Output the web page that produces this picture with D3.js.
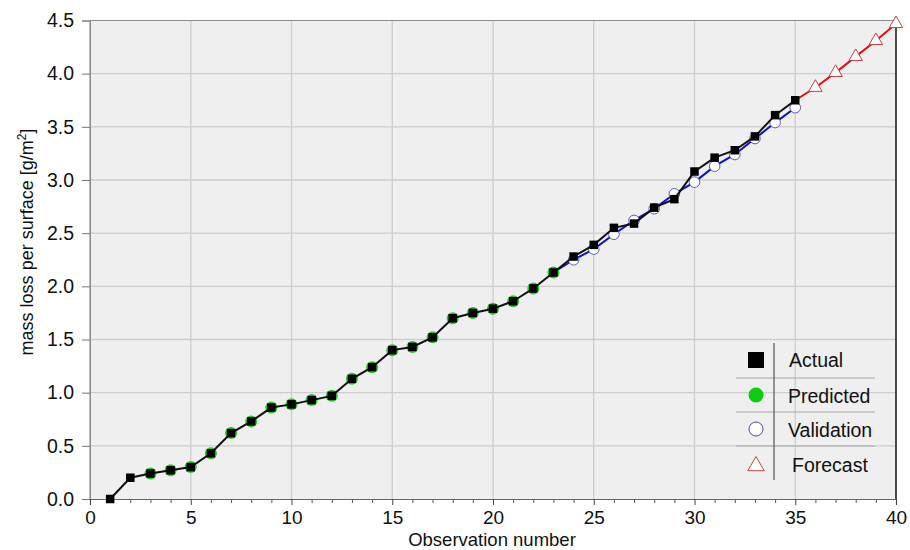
<!DOCTYPE html>
<html>
<head>
<meta charset="utf-8">
<script src="https://cdn.jsdelivr.net/npm/d3@7"></script>
<style>
  html, body { margin: 0; padding: 0; background: #ffffff; }
  svg { display: block; font-family: "Liberation Sans", Arial, sans-serif; }
</style>
</head>
<body>
<svg id="chart" width="910" height="550"></svg>
<script>
// ---- data ----
const actualObs = [1,2,3,4,5,6,7,8,9,10,11,12,13,14,15,16,17,18,19,20,21,22,23,24,25,26,27,28,29,30,31,32,33,34,35];
const actualVals = [0.00,0.20,0.24,0.27,0.30,0.43,0.62,0.73,0.86,0.89,0.93,0.97,1.13,1.24,1.40,1.43,1.52,1.70,1.75,1.79,1.86,1.98,2.13,2.28,2.39,2.55,2.59,2.74,2.82,3.08,3.21,3.28,3.41,3.61,3.75];

const predictedObs = [3,4,5,6,7,8,9,10,11,12,13,14,15,16,17,18,19,20,21,22,23];
const predictedVals = [0.24,0.27,0.30,0.43,0.62,0.73,0.86,0.89,0.93,0.97,1.13,1.24,1.40,1.43,1.52,1.70,1.75,1.79,1.86,1.98,2.13];

const validationObs = [23,24,25,26,27,28,29,30,31,32,33,34,35];
const validationVals = [2.13,2.25,2.35,2.49,2.62,2.73,2.87,2.98,3.13,3.24,3.39,3.54,3.68];

const forecastObs = [35,36,37,38,39,40];
const forecastVals = [3.75,3.87,4.01,4.16,4.31,4.47];

const xMajorTicks = [0,5,10,15,20,25,30,35,40];
const yTicks = [0,0.5,1.0,1.5,2.0,2.5,3.0,3.5,4.0,4.5];
const legendLabels = ["Actual","Predicted","Validation","Forecast"];
const xTitle = "Observation number";

// ---- layout ----
const svg = d3.select("#chart");
const L = 90, R = 896, T = 20.5, B = 499;
const x = d3.scaleLinear().domain([0,40]).range([L,R]);
const y = d3.scaleLinear().domain([0,4.5]).range([B,T]);

// plot background
svg.append("rect").attr("x",L).attr("y",T).attr("width",R-L).attr("height",B-T).attr("fill","#efefef");

// grid
const grid = svg.append("g").attr("stroke","#cdcdcd").attr("stroke-width",1.3);
yTicks.filter(v => v>0 && v<4.5).forEach(v => {
  grid.append("line").attr("x1",L).attr("x2",R).attr("y1",y(v)).attr("y2",y(v));
});
xMajorTicks.filter(v => v>0 && v<40).forEach(v => {
  grid.append("line").attr("y1",T).attr("y2",B).attr("x1",x(v)).attr("x2",x(v));
});

// borders
svg.append("line").attr("x1",L).attr("x2",R).attr("y1",T).attr("y2",T).attr("stroke","#8c8c8c").attr("stroke-width",1.2);
svg.append("line").attr("x1",L).attr("x2",L).attr("y1",T).attr("y2",B).attr("stroke","#8c8c8c").attr("stroke-width",1.2);
svg.append("line").attr("x1",R).attr("x2",R).attr("y1",T).attr("y2",B).attr("stroke","#111").attr("stroke-width",1.5);

// axes
const fontTick = "19.5px";
const yAxis = svg.append("g").attr("transform",`translate(${L},0)`)
  .call(d3.axisLeft(y).tickValues(yTicks).tickFormat(d3.format(".1f")).tickSize(8).tickPadding(8));
yAxis.select(".domain").attr("stroke","#8c8c8c");
yAxis.selectAll(".tick line").attr("stroke","#777");
yAxis.selectAll("text").attr("font-size",fontTick).attr("fill","#111").attr("font-family","Liberation Sans, Arial, sans-serif");

const xMinor = d3.range(0,41).filter(v => v % 5 !== 0);
const xAxisMinor = svg.append("g").attr("transform",`translate(0,${B})`)
  .call(d3.axisBottom(x).tickValues(xMinor).tickFormat("").tickSize(4));
xAxisMinor.select(".domain").remove();
xAxisMinor.selectAll(".tick line").attr("stroke","#555");

const xAxis = svg.append("g").attr("transform",`translate(0,${B})`)
  .call(d3.axisBottom(x).tickValues(xMajorTicks).tickFormat(d3.format("d")).tickSize(6).tickPadding(6));
xAxis.select(".domain").attr("stroke","#666").attr("stroke-width",1.2);
xAxis.selectAll(".tick line").attr("stroke","#444");
xAxis.selectAll("text").attr("font-size","19px").attr("fill","#111").attr("font-family","Liberation Sans, Arial, sans-serif");

// axis titles
svg.append("text").attr("x",492).attr("y",545.5).attr("text-anchor","middle")
  .attr("font-size","18.5px").attr("fill","#111").text(xTitle);

const yt = svg.append("text").attr("transform","translate(33,242) rotate(-90)")
  .attr("text-anchor","middle").attr("font-size","18px").attr("fill","#111");
yt.append("tspan").text("mass loss per surface [g/m");
yt.append("tspan").attr("font-size","12px").attr("dy","-7").text("2");
yt.append("tspan").attr("dy","7").text("]");

// series
const zip = (xs, vs) => xs.map((o,i) => ({o, v: vs[i]}));
const actual = zip(actualObs, actualVals);
const predicted = zip(predictedObs, predictedVals);
const validation = zip(validationObs, validationVals);
const forecast = zip(forecastObs, forecastVals);
const line = d3.line().x(d => x(d.o)).y(d => y(d.v));

// validation
svg.append("path").datum(validation).attr("d",line).attr("fill","none").attr("stroke","#1010c8").attr("stroke-width",2);
svg.append("g").selectAll("circle").data(validation.slice(1)).join("circle")
  .attr("cx",d => x(d.o)).attr("cy",d => y(d.v)).attr("r",5.3)
  .attr("fill","#ffffff").attr("stroke","#4a4ab0").attr("stroke-width",0.9);

// predicted
svg.append("g").selectAll("circle").data(predicted).join("circle")
  .attr("cx",d => x(d.o)).attr("cy",d => y(d.v)).attr("r",6)
  .attr("fill","#1ed01e");

// forecast
svg.append("path").datum(forecast).attr("d",line).attr("fill","none").attr("stroke","#dd1111").attr("stroke-width",2);
const tri = d3.symbol().type(d3.symbolTriangle).size(78);
svg.append("g").selectAll("path").data(forecast.slice(1)).join("path")
  .attr("transform",d => `translate(${x(d.o)},${y(d.v)})`).attr("d",tri)
  .attr("fill","#ffffff").attr("stroke","#c84040").attr("stroke-width",1);

// actual
svg.append("path").datum(actual).attr("d",line).attr("fill","none").attr("stroke","#111").attr("stroke-width",2);
svg.append("g").selectAll("rect").data(actual).join("rect")
  .attr("x",d => x(d.o)-4.25).attr("y",d => y(d.v)-4.25).attr("width",8.5).attr("height",8.5)
  .attr("fill","#000");

// legend
const lg = svg.append("g");
const rowY = [360, 396, 430, 465];
const sepY = [378, 412, 446];
sepY.forEach(s => lg.append("line").attr("x1",736).attr("x2",875).attr("y1",s).attr("y2",s)
  .attr("stroke","#a8a8a8").attr("stroke-width",1.2));
lg.append("line").attr("x1",774).attr("x2",774).attr("y1",343).attr("y2",480).attr("stroke","#555").attr("stroke-width",1.2);
const sx = 756;
lg.append("rect").attr("x",sx-8).attr("y",rowY[0]-8).attr("width",16).attr("height",16).attr("fill","#000");
lg.append("circle").attr("cx",sx).attr("cy",rowY[1]-1).attr("r",7.5).attr("fill","#10cc10");
lg.append("circle").attr("cx",sx).attr("cy",rowY[2]-1).attr("r",7).attr("fill","#fff").attr("stroke","#4a4ab0").attr("stroke-width",1);
lg.append("path").attr("transform",`translate(${sx},${rowY[3]+1})`).attr("d",d3.symbol().type(d3.symbolTriangle).size(115)())
  .attr("fill","#fff").attr("stroke","#c84040").attr("stroke-width",1);
const textX = [789, 788, 788, 792];
legendLabels.forEach((t,i) => {
  lg.append("text").attr("x",textX[i]).attr("y",rowY[i]).attr("dy","0.35em")
    .attr("font-size","19.5px").attr("fill","#111").text(t);
});
</script>
</body>
</html>
